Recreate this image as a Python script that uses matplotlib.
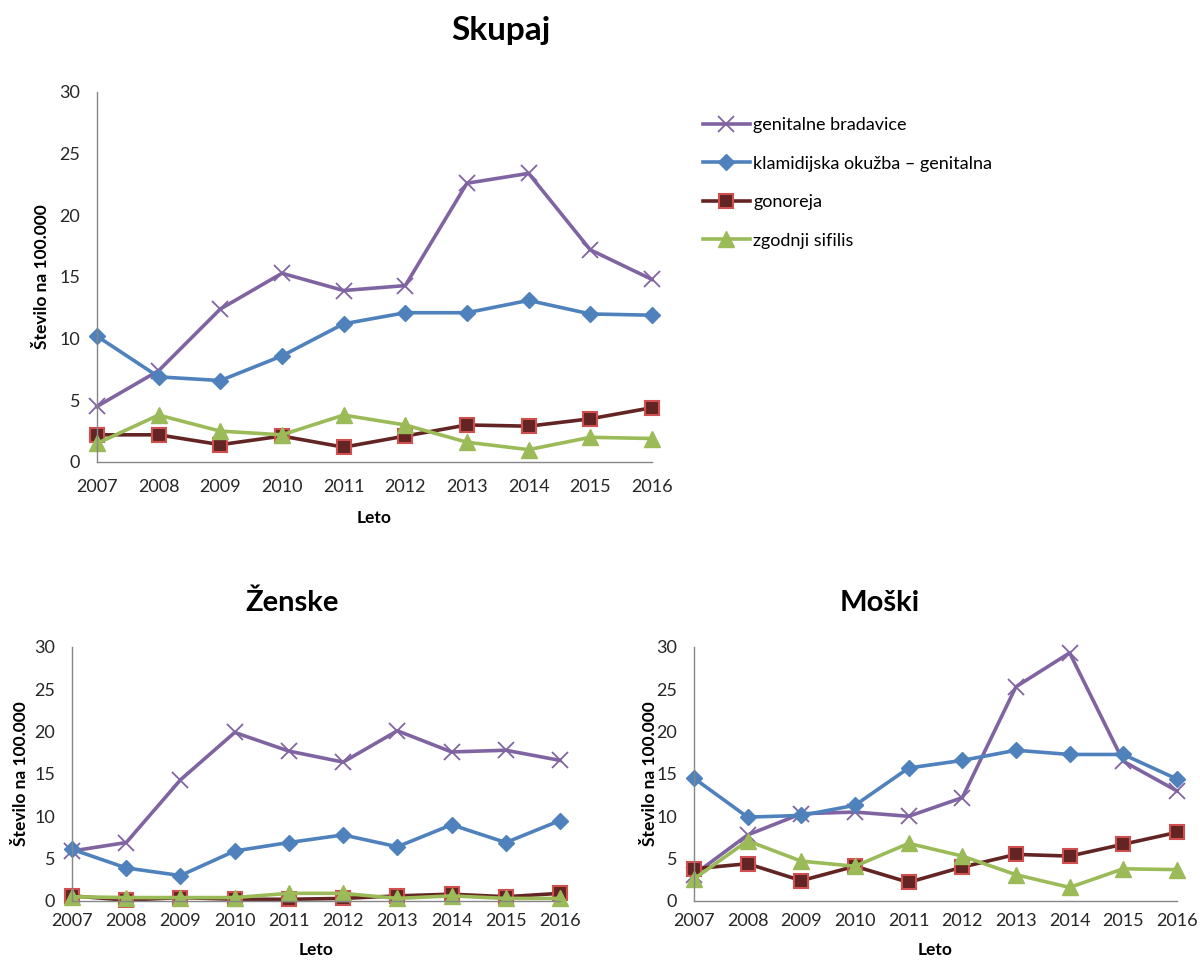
import matplotlib.pyplot as plt
from matplotlib.lines import Line2D

plt.rcParams['font.family'] = ['Lato', 'DejaVu Sans']

years = [2007, 2008, 2009, 2010, 2011, 2012, 2013, 2014, 2015, 2016]
labels = ['genitalne bradavice', 'klamidijska okužba – genitalna',
          'gonoreja', 'zgodnji sifilis']

# Skupaj
sk_bradavice = [4.5, 7.4, 12.4, 15.3, 13.9, 14.3, 22.6, 23.4, 17.2, 14.8]
sk_klamidija = [10.2, 6.9, 6.6, 8.6, 11.2, 12.1, 12.1, 13.1, 12.0, 11.9]
sk_gonoreja = [2.2, 2.2, 1.4, 2.1, 1.2, 2.1, 3.0, 2.9, 3.5, 4.4]
sk_sifilis = [1.5, 3.8, 2.5, 2.2, 3.8, 3.0, 1.6, 1.0, 2.0, 1.9]

# Ženske
z_bradavice = [5.9, 6.9, 14.3, 19.9, 17.7, 16.4, 20.1, 17.6, 17.8, 16.6]
z_klamidija = [6.1, 3.9, 3.0, 5.9, 6.9, 7.8, 6.4, 9.0, 6.9, 9.5]
z_gonoreja = [0.6, 0.1, 0.4, 0.2, 0.2, 0.3, 0.6, 0.8, 0.5, 0.9]
z_sifilis = [0.5, 0.4, 0.4, 0.4, 0.9, 0.9, 0.3, 0.6, 0.3, 0.3]

# Moški
m_bradavice = [3.1, 7.8, 10.3, 10.5, 10.0, 12.2, 25.3, 29.3, 16.5, 13.0]
m_klamidija = [14.5, 9.9, 10.1, 11.3, 15.7, 16.6, 17.8, 17.3, 17.3, 14.4]
m_gonoreja = [3.8, 4.4, 2.4, 4.1, 2.2, 4.0, 5.5, 5.3, 6.7, 8.1]
m_sifilis = [2.6, 7.1, 4.7, 4.1, 6.8, 5.3, 3.1, 1.6, 3.8, 3.7]

STYLES = [
    dict(color='#8064A2', marker='x', markersize=11, markeredgewidth=1.3),
    dict(color='#4F81BD', marker='D', markersize=8.5),
    dict(color='#632523', marker='s', markersize=10, markerfacecolor='#632523',
         markeredgecolor='#D05050', markeredgewidth=1.5),
    dict(color='#9BBB59', marker='^', markersize=11),
]

AXIS_COLOR = '#868686'


def draw(ax, series, xpad, ylab_x, xlab_y):
    for vals, st in zip(series, STYLES):
        ax.plot(years, vals, linewidth=2.6, clip_on=False, **st)
    ax.set_xlim(2007, 2016)
    ax.set_ylim(0, 30)
    ax.set_xticks(years)
    ax.set_yticks(range(0, 31, 5))
    ax.tick_params(axis='both', length=0, labelsize=13, colors='#262626')
    ax.tick_params(axis='x', pad=xpad)
    ax.tick_params(axis='y', pad=12)
    for s in ['top', 'right']:
        ax.spines[s].set_visible(False)
    for s in ['left', 'bottom']:
        ax.spines[s].set_color(AXIS_COLOR)
        ax.spines[s].set_linewidth(1.0)
    ax.set_xlabel('Leto', fontsize=12.5, fontweight='bold')
    ax.set_ylabel('Število na 100.000', fontsize=12.5, fontweight='bold')
    ax.yaxis.set_label_coords(ylab_x, 0.5)
    ax.xaxis.set_label_coords(0.5, xlab_y)


fig = plt.figure(figsize=(12, 9.6), dpi=100)

ax_top = fig.add_axes([0.0808, 0.5188, 0.4625, 0.3854])
ax_z = fig.add_axes([0.060, 0.0615, 0.4067, 0.2646])
ax_m = fig.add_axes([0.5783, 0.0615, 0.4025, 0.2646])

draw(ax_top, [sk_bradavice, sk_klamidija, sk_gonoreja, sk_sifilis],
     12, -0.085, -0.13)
draw(ax_z, [z_bradavice, z_klamidija, z_gonoreja, z_sifilis],
     9, -0.088, -0.16)
draw(ax_m, [m_bradavice, m_klamidija, m_gonoreja, m_sifilis],
     9, -0.0745, -0.16)

fig.text(0.417, 0.968, 'Skupaj', fontsize=24, fontweight='bold',
         ha='center', va='center')
fig.text(0.243, 0.372, 'Ženske', fontsize=21, fontweight='bold',
         ha='center', va='center')
fig.text(0.733, 0.372, 'Moški', fontsize=21, fontweight='bold',
         ha='center', va='center')

handles = [Line2D([], [], linewidth=2.6, **st) for st in STYLES]
fig.legend(handles, labels, loc='upper left', bbox_to_anchor=(0.572, 0.895),
           frameon=False, fontsize=13, handlelength=2.6, handletextpad=0.2,
           labelspacing=1.25)

fig.savefig('out.png', dpi=100)
